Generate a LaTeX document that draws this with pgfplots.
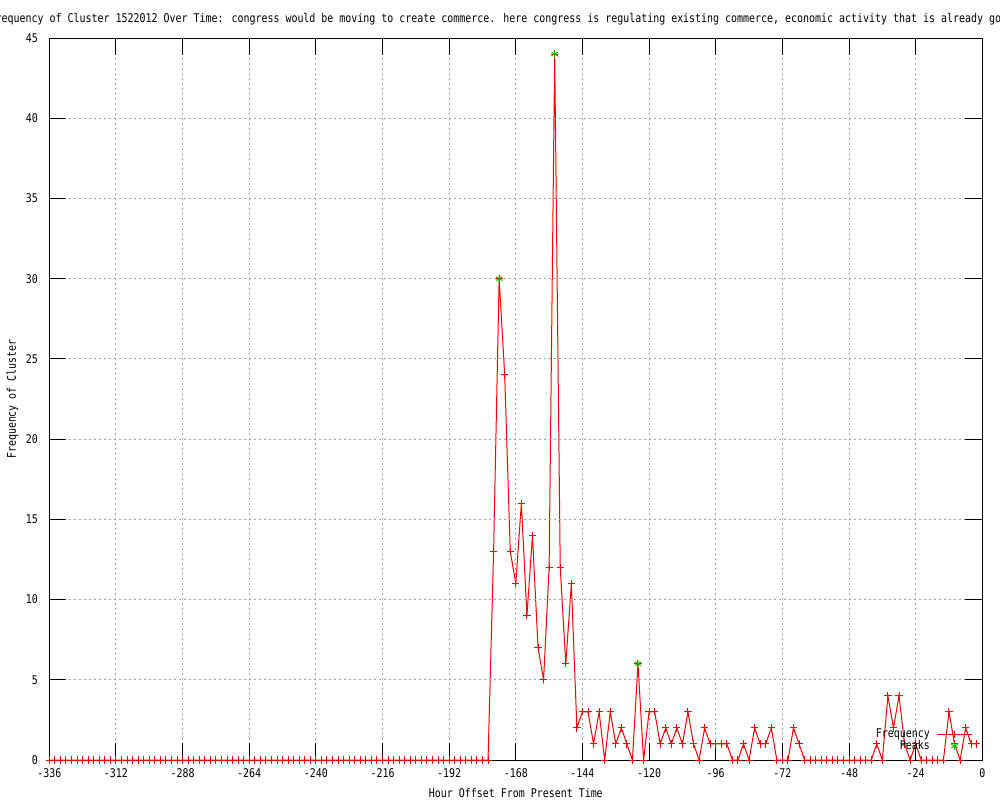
\documentclass[border=0pt]{standalone}
\usepackage{fontspec}
\setmainfont{DejaVu Sans Mono}[FakeStretch=0.83]
\usepackage{pgfplots}
\pgfplotsset{compat=1.18}
\usepackage{pgfplotstable}
\definecolor{gridgray}{RGB}{160,160,160}
\definecolor{peakgreen}{RGB}{0,192,0}
\pgfplotstableread{
x y
-336 0
-334 0
-332 0
-330 0
-328 0
-326 0
-324 0
-322 0
-320 0
-318 0
-316 0
-314 0
-312 0
-310 0
-308 0
-306 0
-304 0
-302 0
-300 0
-298 0
-296 0
-294 0
-292 0
-290 0
-288 0
-286 0
-284 0
-282 0
-280 0
-278 0
-276 0
-274 0
-272 0
-270 0
-268 0
-266 0
-264 0
-262 0
-260 0
-258 0
-256 0
-254 0
-252 0
-250 0
-248 0
-246 0
-244 0
-242 0
-240 0
-238 0
-236 0
-234 0
-232 0
-230 0
-228 0
-226 0
-224 0
-222 0
-220 0
-218 0
-216 0
-214 0
-212 0
-210 0
-208 0
-206 0
-204 0
-202 0
-200 0
-198 0
-196 0
-194 0
-192 0
-190 0
-188 0
-186 0
-184 0
-182 0
-180 0
-178 0
-176 13
-174 30
-172 24
-170 13
-168 11
-166 16
-164 9
-162 14
-160 7
-158 5
-156 12
-154 44
-152 12
-150 6
-148 11
-146 2
-144 3
-142 3
-140 1
-138 3
-136 0
-134 3
-132 1
-130 2
-128 1
-126 0
-124 6
-122 0
-120 3
-118 3
-116 1
-114 2
-112 1
-110 2
-108 1
-106 3
-104 1
-102 0
-100 2
-98 1
-96 1
-94 1
-92 1
-90 0
-88 0
-86 1
-84 0
-82 2
-80 1
-78 1
-76 2
-74 0
-72 0
-70 0
-68 2
-66 1
-64 0
-62 0
-60 0
-58 0
-56 0
-54 0
-52 0
-50 0
-48 0
-46 0
-44 0
-42 0
-40 0
-38 1
-36 0
-34 4
-32 2
-30 4
-28 1
-26 0
-24 1
-22 0
-20 0
-18 0
-16 0
-14 0
-12 3
-10 1
-8 0
-6 2
-4 1
-2 1
}\freqdata
\pgfplotstableread{
x y
-174 30
-154 44
-124 6
}\peakdata
\begin{document}
\fontsize{6pt}{7pt}\selectfont
\begin{tikzpicture}
\path[use as bounding box] (0,0) rectangle (500pt,400pt);
\begin{axis}[
  at={(24.65pt,20pt)}, anchor=south west,
  scale only axis, width=466.5pt, height=361pt,
  xmin=-336, xmax=0, ymin=0, ymax=45,
  clip=false,
  xtick={-336,-312,...,0}, ytick={0,5,...,45},
  /pgf/number format/assume math mode=true,
  /pgf/number format/1000 sep={},
  major tick length=8.5pt,
  tick align=inside,
  axis line style={black, line width=0.5pt},
  every tick/.style={black, line width=0.5pt},
  grid=major,
  major grid style={dash pattern=on 1pt off 1.5pt, color=gridgray, line width=0.5pt},
  axis on top,
  x tick label style={inner sep=0pt, yshift=-4.3pt},
  y tick label style={inner sep=0pt, xshift=-5.5pt},
  xlabel={Hour Offset From Present Time},
  x label style={at={(axis description cs:0.5,-0.0457)}, anchor=center, inner sep=0pt},
  ylabel={Frequency of Cluster},
  y label style={at={(axis description cs:-0.0357,0.5)}, anchor=base, inner sep=0pt},
  legend cell align=right,
  legend plot pos=right,
  legend style={draw=none, fill=none, at={(axis description cs:0.9895,0.0104)}, anchor=south east,
    inner sep=0pt, row sep=0pt, column sep=3.3pt, nodes={inner sep=0.25pt}},
]
\addplot[red, line width=0.5pt, mark=+, mark size=1.8pt, mark options={red, solid, line width=0.5pt}] table[x=x,y=y] {\freqdata};
\addlegendentry{Frequency}
\addplot[peakgreen, only marks, mark=asterisk, mark size=1.8pt, mark options={peakgreen, solid, line width=0.5pt}] table[x=x,y=y] {\peakdata};
\addlegendentry{Peaks}
\node[anchor=base west, inner sep=0pt] at (axis description cs:-0.0643,1.0208) {Frequency of Cluster 1522012 Over Time: congress would be moving to create commerce. here congress is regulating existing commerce, economic activity that is already going on};
\end{axis}
\end{tikzpicture}
\end{document}
